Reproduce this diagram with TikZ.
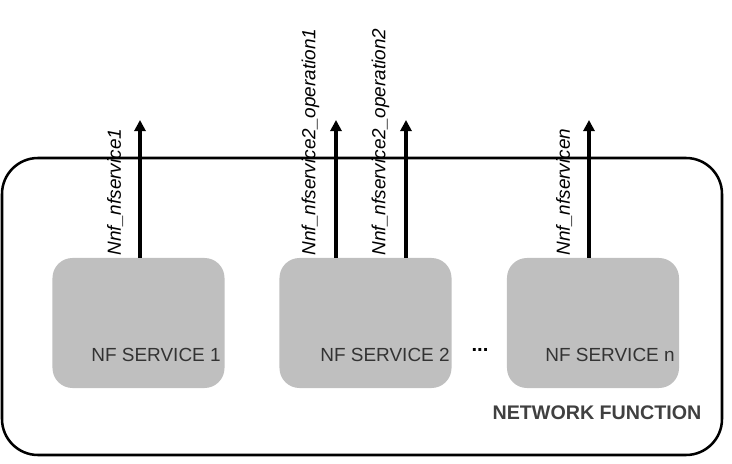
\documentclass[tikz,border=0pt]{standalone}
\usepackage{fontspec}
\setmainfont{Liberation Sans}
\usetikzlibrary{positioning,arrows.meta}

\begin{document}
\begin{tikzpicture}[x=0.025cm,y=-0.025cm,
    service/.style={rectangle,rounded corners=5mm,fill=black!25,minimum width=4.3cm,minimum height=3.25cm,inner sep=0pt},
    iface/.style={draw,line width=2.2pt,-{Triangle[length=8pt,width=8pt]}},
    ifacelabel/.style={rotate=90,anchor=south west,font=\fontsize{13.5}{15}\selectfont\itshape,inner sep=1pt},
    svclabel/.style={font=\fontsize{13.5}{15}\selectfont,text=black!80}]
    \useasboundingbox (0,0) rectangle (732,464);
	\draw[line width=1.8pt,rounded corners=9mm] (2,158) rectangle (722,455);
	\node[service] (S1) at (138.5,323) {};
	\node[service] (S2) at (365.5,323) {};
	\node[service] (S3) at (593,323) {};
	\node[svclabel] at (156,355) {NF SERVICE 1};
	\node[svclabel] at (385,355) {NF SERVICE 2};
	\node[svclabel] at (610,355) {NF SERVICE n};
	\node[font=\Large\bfseries] (dots) at (480,350) {...};
	\node[font=\fontsize{14}{16}\selectfont\bfseries,text=black!75] (NF) at (597,413) {NETWORK FUNCTION};
	% interfaces
	\coordinate (T1) at (140,120);
	\coordinate (T2) at (336,120);
	\coordinate (T3) at (406,120);
	\coordinate (T4) at (589,120);
	\draw[iface] (S1.north -| T1) -- (T1);
	\draw[iface] (S2.north -| T2) -- (T2);
	\draw[iface] (S2.north -| T3) -- (T3);
	\draw[iface] (S3.north -| T4) -- (T4);
	\node[ifacelabel] at (125,257) {Nnf\_nfservice1};
	\node[ifacelabel] at (321,257) {Nnf\_nfservice2\_operation1};
	\node[ifacelabel] at (391,257) {Nnf\_nfservice2\_operation2};
	\node[ifacelabel] at (574,257) {Nnf\_nfservicen};
\end{tikzpicture}
\end{document}
